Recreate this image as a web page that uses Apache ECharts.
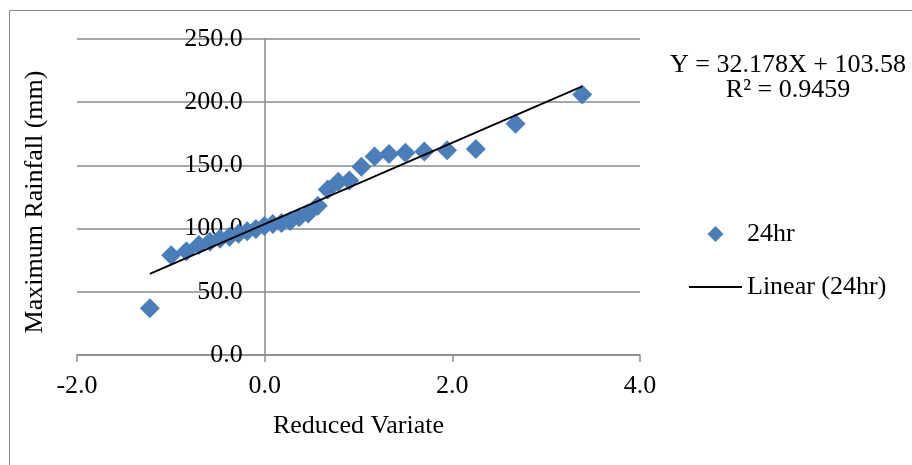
<!DOCTYPE html>
<html>
<head>
<meta charset="utf-8">
<script src="https://cdn.jsdelivr.net/npm/echarts@6/dist/echarts.min.js"></script>
<style>
html, body { margin: 0; padding: 0; background: #fff; }
#main { width: 912px; height: 465px; }
</style>
</head>
<body>
<div id="main"></div>
<script>
var myChart = echarts.init(document.getElementById('main'));

// reduced variate (x) and 24hr maximum rainfall (y)
var reducedVariate = [-1.224, -0.996, -0.834, -0.701, -0.583, -0.476, -0.375, -0.279, -0.186, -0.094,
	-0.003, 0.087, 0.179, 0.272, 0.367, 0.464, 0.566, 0.672, 0.784, 0.903,
	1.031, 1.171, 1.325, 1.500, 1.702, 1.944, 2.250, 2.674, 3.384];
var rainfall24hr = [37, 79, 82, 87, 89.5, 92, 93.5, 96, 98, 99.7,
	102, 103.6, 104.4, 106, 109, 112, 118, 131, 137, 138,
	149, 157, 159, 160, 161, 162, 163, 183, 206];
// end points of the linear trend line
var trendX = [-1.224, 3.384];
var trendY = [64.2, 212.5];
var xTicks = [-2, 4, 2];   // min, max, step
var yTicks = [0, 250, 50];

var font = 'Liberation Serif, Times New Roman, serif';
var gridColor = '#8a8a8a';
var gridLeft = 77, gridRight = 272;
var plotWidth = 912 - gridLeft - gridRight;

var points = [];
for (var i = 0; i < reducedVariate.length; i++) {
	points.push([reducedVariate[i], rainfall24hr[i]]);
}
var trend = [];
for (var j = 0; j < trendX.length; j++) {
	trend.push([trendX[j], trendY[j]]);
}
// the value axis crosses the x axis at x = 0
var yAxisShift = plotWidth * (0 - xTicks[0]) / (xTicks[1] - xTicks[0]);

var option = {
	backgroundColor: '#fff',
	animation: false,
	textStyle: { fontFamily: font },
	grid: {
		left: gridLeft,
		right: gridRight,
		top: 39,
		bottom: 110
	},
	xAxis: {
		type: 'value',
		min: xTicks[0],
		max: xTicks[1],
		interval: xTicks[2],
		name: 'Reduced Variate',
		nameLocation: 'middle',
		nameGap: 58,
		nameTextStyle: { color: '#000', fontSize: 26, fontFamily: font },
		axisLine: { onZero: false, lineStyle: { color: gridColor, width: 1.5 } },
		axisTick: { show: true, length: 7, lineStyle: { color: gridColor, width: 1.5 } },
		splitLine: { show: false },
		axisLabel: {
			color: '#000',
			fontSize: 26,
			fontFamily: font,
			margin: 18,
			formatter: function (v) { return v.toFixed(1); }
		}
	},
	yAxis: {
		type: 'value',
		position: 'left',
		offset: -yAxisShift,
		min: yTicks[0],
		max: yTicks[1],
		interval: yTicks[2],
		axisLine: { show: true, onZero: false, lineStyle: { color: gridColor, width: 1.5 } },
		axisTick: { show: false },
		splitLine: { show: true, lineStyle: { color: gridColor, width: 1.5 } },
		axisLabel: {
			color: '#000',
			fontSize: 26,
			fontFamily: font,
			margin: 22,
			formatter: function (v) { return v.toFixed(1); }
		}
	},
	legend: {
		orient: 'vertical',
		left: 684,
		top: 216,
		itemWidth: 53,
		itemHeight: 16,
		itemGap: 27,
		symbolKeepAspect: true,
		textStyle: { color: '#000', fontSize: 26, fontFamily: font },
		data: [
			{ name: '24hr', icon: 'path://M8,0L16,8L8,16L0,8Z' },
			{ name: 'Linear (24hr)', icon: 'path://M0,0H53V2H0Z' }
		]
	},
	graphic: [
		{
			type: 'rect',
			silent: true,
			shape: { x: 9.5, y: 10.5, width: 940, height: 500 },
			style: { fill: 'none', stroke: '#868686', lineWidth: 1 }
		},
		{
			type: 'text',
			x: 35,
			y: 202,
			rotation: Math.PI / 2,
			style: {
				text: 'Maximum Rainfall (mm)',
				fill: '#000',
				font: '26px ' + font,
				textAlign: 'center',
				textVerticalAlign: 'middle'
			}
		},
		{
			type: 'text',
			x: 788,
			y: 65,
			style: {
				text: 'Y = 32.178X + 103.58',
				fill: '#000',
				font: '26px ' + font,
				textAlign: 'center',
				textVerticalAlign: 'middle'
			}
		},
		{
			type: 'text',
			x: 788,
			y: 90,
			style: {
				text: 'R² = 0.9459',
				fill: '#000',
				font: '26px ' + font,
				textAlign: 'center',
				textVerticalAlign: 'middle'
			}
		}
	],
	series: [
		{
			name: '24hr',
			type: 'scatter',
			symbol: 'diamond',
			symbolSize: 20,
			itemStyle: { color: '#4A7EBB', opacity: 1 },
			data: points,
			z: 2
		},
		{
			name: 'Linear (24hr)',
			type: 'line',
			symbol: 'none',
			lineStyle: { color: '#000', width: 1.8 },
			itemStyle: { color: '#000' },
			data: trend,
			z: 3
		}
	]
};
myChart.setOption(option, true);
</script>
</body>
</html>
